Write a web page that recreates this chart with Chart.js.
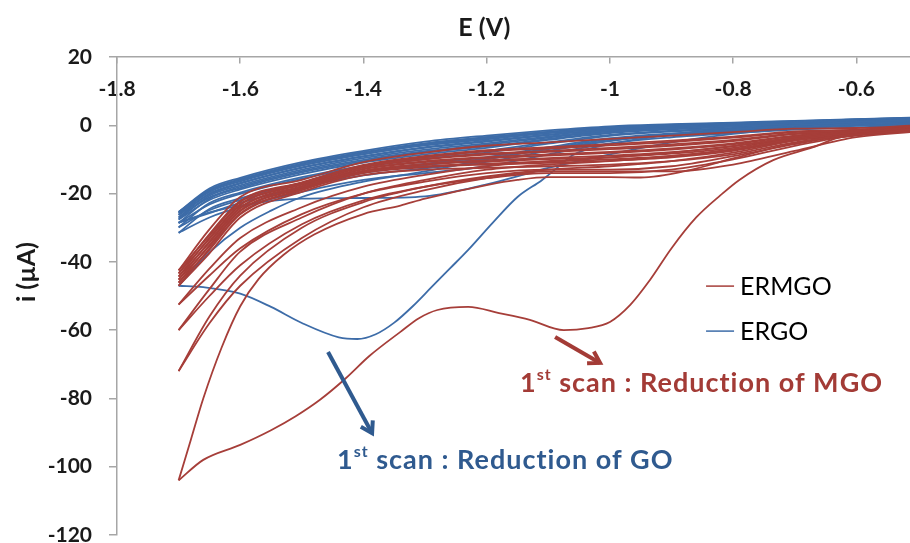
<!DOCTYPE html>
<html>
<head>
<meta charset="utf-8">
<script src="https://cdn.jsdelivr.net/npm/chart.js@4.4.1/dist/chart.umd.min.js"></script>
<style>
  body { margin: 0; background: #fff; }
  #cv { display: block; }
</style>
</head>
<body>
<canvas id="cv" width="910" height="543"></canvas>
<script>
// tick labels
const xTickValues = [-1.8, -1.6, -1.4, -1.2, -1, -0.8, -0.6];
const yTickStep = 20;

// common potential grid (V) for the later cycles, cathodic direction
const potGrid = [-0.5, -0.6, -0.7, -0.8, -0.9, -1.0, -1.1, -1.2, -1.3, -1.4, -1.5, -1.6, -1.65, -1.7];

// ERMGO, 1st scan (cathodic sweep, then return)
const ermgoScan1Pot = [-0.5, -0.57, -0.63, -0.67, -0.735, -0.79, -0.82, -0.86, -0.9, -0.935, -0.967, -1.0, -1.035, -1.075, -1.13, -1.18, -1.23, -1.28, -1.31, -1.34, -1.39, -1.43, -1.47, -1.51, -1.55, -1.6, -1.66, -1.7];
const ermgoScan1Fwd = [-1.0, -2.3, -3.7, -6.4, -10.2, -16, -20.4, -27, -36, -45.3, -52.6, -57.6, -59.4, -60, -57, -55, -53.2, -54.1, -56.5, -60.5, -67.5, -74.3, -80.3, -85.2, -89.3, -93.6, -98, -104];
const ermgoScan1RetPot = [-1.7, -1.68, -1.66, -1.63, -1.6, -1.57, -1.53, -1.48, -1.4, -1.34, -1.3, -1.2, -1.15, -1.1, -1.0, -0.95, -0.87, -0.8, -0.7, -0.6, -0.5];
const ermgoScan1Ret = [-104, -92, -80, -65, -53, -45, -38, -32, -26, -23.5, -21.5, -17.5, -16, -15.2, -15.2, -15.3, -13.1, -9.7, -5.2, -2.5, -1.5];

// ERMGO, cycles 2..10 on potGrid (forward = cathodic, return = anodic)
const ermgoFwd = [
  [-1.8, -3.5, -7.5, -11.5, -13.5, -13.5, -13.5, -15.5, -19, -24, -33, -47, -58, -72],
  [-1.5, -2.8, -6, -10, -13, -14, -14, -15.5, -18, -22, -29, -41, -50, -60],
  [-1.3, -2.5, -5.5, -9, -12, -13, -13, -14, -16.5, -20, -26, -36, -44, -52.5],
  [-1.5, -3.0, -5, -8.5, -10.5, -11.5, -12, -12.5, -13, -14.6, -19.5, -27, -37.5, -47],
  [-1.3, -2.7, -4.4, -7.5, -9.4, -10.4, -11, -11.5, -12.3, -14.0, -19.0, -26.1, -36.5, -46.1],
  [-1.1, -2.3, -3.8, -6.6, -8.3, -9.3, -9.9, -10.6, -11.5, -13.5, -18.5, -25.2, -35.4, -45.2],
  [-0.9, -2.0, -3.2, -5.6, -7.1, -8.1, -8.9, -9.6, -10.8, -12.9, -17.9, -24.3, -34.4, -44.3],
  [-0.6, -1.7, -2.6, -4.6, -6.0, -7.0, -7.8, -8.6, -10.0, -12.3, -17.4, -23.4, -33.3, -43.4],
  [-0.4, -1.4, -2.0, -3.6, -4.9, -5.9, -6.8, -7.6, -9.3, -11.8, -16.9, -22.5, -32.3, -42.5]
];
const ermgoRet = [
  [-1.2, -2, -4.5, -8, -10.5, -12, -13, -15, -18, -22.5, -30, -44, -56, -72],
  [-1.0, -1.8, -4, -7, -9, -10.5, -11.5, -13, -16, -20, -27, -37, -48, -60],
  [-0.8, -1.5, -3.5, -6, -8, -9.5, -10.5, -12, -14.5, -18, -24, -33, -42, -52.5],
  [-1.2, -2.6, -4.2, -7.2, -9, -10, -10.6, -11.2, -12, -13.8, -18.8, -25.8, -36.1, -47],
  [-1.0, -2.2, -3.6, -6.2, -7.9, -8.9, -9.6, -10.2, -11.3, -13.3, -18.3, -24.9, -35.1, -46.1],
  [-0.8, -1.9, -3.0, -5.3, -6.8, -7.8, -8.5, -9.3, -10.5, -12.7, -17.8, -24.0, -34.0, -45.2],
  [-0.5, -1.6, -2.4, -4.3, -5.6, -6.6, -7.5, -8.3, -9.8, -12.1, -17.2, -23.1, -33.0, -44.3],
  [-0.3, -1.3, -1.8, -3.3, -4.5, -5.5, -6.4, -7.3, -9.0, -11.6, -16.7, -22.2, -31.9, -43.4],
  [0, -0.8, -1.0, -2.0, -3.0, -4.0, -5.0, -6.0, -8.0, -10.8, -16.0, -21.0, -30.5, -42.5]
];

// ERGO, 1st scan
const ergoScan1Pot = [-0.5, -0.6, -0.7, -0.8, -0.9, -1.0, -1.06, -1.08, -1.11, -1.15, -1.19, -1.23, -1.26, -1.29, -1.32, -1.35, -1.38, -1.41, -1.44, -1.5, -1.55, -1.6, -1.66, -1.7];
const ergoScan1Fwd = [1.5, 1.0, 0.0, -1.2, -2.8, -5.5, -8.7, -11.6, -16, -21, -28.5, -36.5, -42, -47.5, -53, -57.8, -61.2, -62.6, -62.1, -57.9, -53.2, -49.3, -47.4, -47.0];
const ergoScan1RetPot = [-1.7, -1.67, -1.65, -1.6, -1.55, -1.5, -1.4, -1.3, -1.2, -1.1, -1.0, -0.9, -0.8, -0.7, -0.6, -0.5];
const ergoScan1Ret = [-47.0, -41, -37.2, -30, -25, -21, -16.5, -13.5, -10, -7, -4.5, -2.5, -1, 0, 1, 1.6];

// ERGO, cycles 2..10 on potGrid
const ergoFwd = [
  [1.2, 0.5, -0.8, -2.5, -5, -8.5, -12.5, -17.3, -20.8, -21.3, -21.5, -23.5, -25.5, -28.5],
  [0, -0.6, -1.3, -2.3, -3.5, -5.3, -8.5, -12, -14, -16, -19.5, -24, -27, -31.5],
  [0.6, 0, -0.7, -1.5, -2.6, -4.1, -6.8, -9.8, -11.7, -13.9, -17.3, -21.9, -24.9, -29.9],
  [1.0, 0.5, -0.1, -0.9, -1.8, -3.1, -5.4, -8.0, -9.9, -12.2, -15.6, -20.1, -23.2, -28.6],
  [1.4, 0.8, 0.3, -0.4, -1.2, -2.3, -4.3, -6.6, -8.5, -10.9, -14.3, -18.8, -21.9, -27.6],
  [1.6, 1.1, 0.5, -0.1, -0.8, -1.8, -3.6, -5.7, -7.6, -10.1, -13.4, -18.0, -21.1, -27.0],
  [1.8, 1.3, 0.8, 0.2, -0.5, -1.3, -2.9, -4.8, -6.6, -9.2, -12.5, -17.1, -20.2, -26.3],
  [2.0, 1.5, 1.0, 0.4, -0.2, -0.9, -2.3, -4.1, -5.9, -8.5, -11.8, -16.4, -19.5, -25.8],
  [2.2, 1.7, 1.1, 0.6, 0.1, -0.6, -1.9, -3.5, -5.4, -8.0, -11.3, -15.9, -19.0, -25.4]
];
const ergoRet = [
  [0.3, -0.2, -0.9, -1.8, -2.9, -4.6, -7.5, -10.7, -12.6, -14.7, -18.2, -22.7, -25.7, -28.5],
  [0.7, 0.1, -0.5, -1.4, -2.4, -3.8, -6.4, -9.3, -11.2, -13.5, -16.9, -21.4, -24.5, -31.5],
  [1.2, 0.6, 0, -0.8, -1.6, -2.8, -5.0, -7.5, -9.4, -11.8, -15.2, -19.7, -22.8, -29.9],
  [1.5, 1.0, 0.4, -0.3, -1.0, -2.1, -4.0, -6.2, -8.0, -10.5, -13.8, -18.4, -21.5, -28.6],
  [1.7, 1.2, 0.7, 0, -0.7, -1.6, -3.3, -5.3, -7.1, -9.6, -13.0, -17.6, -20.6, -27.6],
  [1.9, 1.4, 0.9, 0.3, -0.4, -1.2, -2.7, -4.5, -6.4, -9.0, -12.3, -16.9, -20.0, -27.0],
  [2.1, 1.6, 1.0, 0.5, -0.1, -0.8, -2.2, -3.9, -5.7, -8.4, -11.7, -16.3, -19.4, -26.3],
  [2.2, 1.7, 1.2, 0.6, 0.1, -0.6, -1.9, -3.5, -5.3, -7.9, -11.2, -15.8, -18.9, -25.8],
  [2.3, 1.8, 1.3, 0.8, 0.3, -0.3, -1.5, -3.0, -4.8, -7.5, -10.8, -15.4, -18.5, -25.4]
];

const seriesNames = ['ERMGO', 'ERGO'];
const seriesColors = ['#a63e39', '#3d6ca8'];
const noteColors = ['#a33b36', '#2f5a8f'];

// where the notes sit, in data units (E, i)
const legendPos = [-0.844, -47.1];
const noteGO = { text: ['1', 'st', ' scan : Reduction of GO'], at: [-1.443, -98.0], arrow: [[-1.4575, -66.4], [-1.386, -90.2]] };
const noteMGO = { text: ['1', 'st', ' scan : Reduction of MGO'], at: [-1.146, -75.5], arrow: [[-1.089, -62], [-1.016, -69.6]] };

function branch(pot, cur) {
    return pot.map((e, i) => ({ x: e, y: cur[i] }));
}

function line(points, color) {
    return {
        data: points,
        showLine: true,
        borderColor: color,
        borderWidth: 1.8,
        pointRadius: 0,
        fill: false,
        cubicInterpolationMode: 'monotone'
    };
}

let datasets = [];
//ERMGO first so it is painted on top
datasets.push(line(branch(ermgoScan1Pot, ermgoScan1Fwd), seriesColors[0]));
datasets.push(line(branch(ermgoScan1RetPot, ermgoScan1Ret), seriesColors[0]));
for (let k = 0; k < ermgoFwd.length; k++) {
    datasets.push(line(branch(potGrid, ermgoFwd[k]), seriesColors[0]));
    datasets.push(line(branch(potGrid, ermgoRet[k]), seriesColors[0]));
}
datasets.push(line(branch(ergoScan1Pot, ergoScan1Fwd), seriesColors[1]));
datasets.push(line(branch(ergoScan1RetPot, ergoScan1Ret), seriesColors[1]));
for (let k = 0; k < ergoFwd.length; k++) {
    datasets.push(line(branch(potGrid, ergoFwd[k]), seriesColors[1]));
    datasets.push(line(branch(potGrid, ergoRet[k]), seriesColors[1]));
}

function drawArrow(ctx, x1, y1, x2, y2, color) {
    const a = Math.atan2(y2 - y1, x2 - x1);
    const h = 13;
    ctx.strokeStyle = color;
    ctx.lineWidth = 4;
    ctx.beginPath();
    ctx.moveTo(x1, y1);
    ctx.lineTo(x2, y2);
    ctx.stroke();
    ctx.beginPath();
    ctx.moveTo(x2 - h * Math.cos(a - 0.55), y2 - h * Math.sin(a - 0.55));
    ctx.lineTo(x2, y2);
    ctx.lineTo(x2 - h * Math.cos(a + 0.55), y2 - h * Math.sin(a + 0.55));
    ctx.stroke();
}

function drawNote(ctx, note, color, xs, ys) {
    let px = xs.getPixelForValue(note.at[0]);
    const py = ys.getPixelForValue(note.at[1]);
    ctx.fillStyle = color;
    ctx.textAlign = 'left';
    ctx.textBaseline = 'middle';
    ctx.letterSpacing = '1px';
    ctx.font = 'bold 27px Lato';
    ctx.fillText(note.text[0], px, py);
    px += ctx.measureText(note.text[0]).width;
    ctx.font = 'bold 16px Lato';
    ctx.fillText(note.text[1], px, py - 8);
    px += ctx.measureText(note.text[1]).width;
    ctx.font = 'bold 27px Lato';
    ctx.fillText(note.text[2], px, py);
    ctx.letterSpacing = '0px';
    const a = note.arrow;
    drawArrow(ctx, xs.getPixelForValue(a[0][0]), ys.getPixelForValue(a[0][1]),
        xs.getPixelForValue(a[1][0]), ys.getPixelForValue(a[1][1]), color);
}

const notesPlugin = {
    id: 'notes',
    afterDraw(chart) {
        const ctx = chart.ctx;
        const xs = chart.scales.x;
        const ys = chart.scales.y;
        const area = chart.chartArea;
        ctx.save();
        // axis titles
        ctx.fillStyle = '#1a1a1a';
        ctx.font = 'bold 25px Lato';
        ctx.textAlign = 'center';
        ctx.textBaseline = 'middle';
        ctx.fillText('E (V)', xs.getPixelForValue(-1.204), area.top - 29);
        ctx.save();
        ctx.translate(area.left - 90, ys.getPixelForValue(-43));
        ctx.rotate(-Math.PI / 2);
        ctx.fillText('i (\u00b5A)', 0, 0);
        ctx.restore();
        // legend
        const lx = xs.getPixelForValue(legendPos[0]);
        let ly = ys.getPixelForValue(legendPos[1]);
        ctx.font = '25px Lato';
        ctx.textAlign = 'left';
        for (let s = 0; s < seriesNames.length; s++) {
            ctx.strokeStyle = seriesColors[s];
            ctx.lineWidth = 1.5;
            ctx.beginPath();
            ctx.moveTo(lx, ly);
            ctx.lineTo(lx + 28, ly);
            ctx.stroke();
            ctx.fillStyle = '#000';
            ctx.fillText(seriesNames[s], lx + 34, ly + 1);
            ly += 45;
        }
        drawNote(ctx, noteMGO, noteColors[0], xs, ys);
        drawNote(ctx, noteGO, noteColors[1], xs, ys);
        ctx.restore();
    }
};

const axisGray = '#a6a6a6';
const tickFont = { family: 'Lato', size: 21, weight: 'bold' };

window.addEventListener('load', () => {
    const context = document.getElementById('cv').getContext('2d');
    let config = {
        type: 'scatter',
        data: { datasets: datasets },
        options: {
            responsive: false,
            animation: false,
            devicePixelRatio: 1,
            layout: { padding: { left: 0, right: 0, top: 57, bottom: 8 } },
            plugins: {
                legend: { display: false },
                tooltip: { enabled: false }
            },
            scales: {
                x: {
                    type: 'linear',
                    position: { y: 20 },
                    min: -1.8,
                    max: -0.513,
                    afterBuildTicks: s => { s.ticks = xTickValues.map(v => ({ value: v })); },
                    afterFit: s => { s.paddingLeft = 0; s.paddingRight = 0; },
                    grid: { drawOnChartArea: false, tickLength: 6, color: axisGray, lineWidth: 1.5 },
                    border: { color: axisGray, width: 1.5 },
                    ticks: {
                        padding: 14,
                        maxRotation: 0,
                        autoSkip: false,
                        color: '#1a1a1a',
                        font: tickFont,
                        callback: v => String(Number(v.toFixed(1)))
                    }
                },
                y: {
                    min: -120,
                    max: 20,
                    afterFit: s => { s.width = 117; s.paddingTop = 0; s.paddingBottom = 0; },
                    grid: { drawOnChartArea: false, tickLength: 8, color: axisGray, lineWidth: 1.5 },
                    border: { color: axisGray, width: 1.5 },
                    ticks: {
                        stepSize: yTickStep,
                        padding: 17,
                        color: '#1a1a1a',
                        font: tickFont
                    }
                }
            }
        },
        plugins: [notesPlugin]
    };
    let cvChart = new Chart(context, config);
});
</script>
</body>
</html>
